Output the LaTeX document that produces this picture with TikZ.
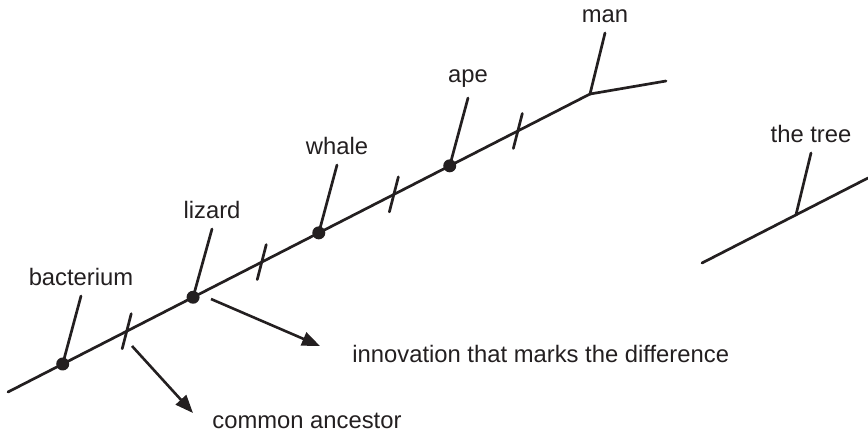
\documentclass[tikz,border=0pt]{standalone}
\usepackage{fontspec}
\setmainfont{Liberation Sans}
\usetikzlibrary{arrows.meta, calc}
\definecolor{inkdark}{HTML}{231F20}

\begin{document}
\begin{tikzpicture}[x=0.5pt, y=-0.5pt, color=inkdark,
  stem/.style={line width=1.35pt, line cap=round},
  lbl/.style={inner sep=5pt, anchor=south, font=\fontsize{11.9}{14}\selectfont},
  txt/.style={inner sep=0pt, anchor=base west, font=\fontsize{11.9}{14}\selectfont},
  dot/.style={circle, fill, inner sep=0pt, minimum size=6.5pt},
  arr/.style={-{Triangle[length=9pt, width=7pt]}, line width=1.3pt}
]
  \useasboundingbox (0,0) rectangle (868,435);

  % main line
  \coordinate (root) at (8,392);
  \coordinate (fork) at (590,94);
  \coordinate (mantop) at (605,33);
  \coordinate (side) at (666,81);
  \draw[stem] (root) -- (fork) -- (mantop);
  \draw[stem] (fork) -- (side);
  \node[lbl] (manlbl) at (mantop) {man};

  % species along the line
  \node[dot] (bact) at ($(root)!0.094!(fork)$) {};
  \node[dot] (liz) at ($(root)!0.318!(fork)$) {};
  \node[dot] (whale) at ($(root)!0.534!(fork)$) {};
  \node[dot] (ape) at ($(root)!0.759!(fork)$) {};

  \node[lbl] (bactlbl) at (81,296) {bacterium};
  \node[lbl] (lizlbl) at (212,229) {lizard};
  \node[lbl] (whalelbl) at (337,165) {whale};
  \node[lbl] (apelbl) at (468,98) {ape};

  \draw[stem] (bact.center) -- (bactlbl.south);
  \draw[stem] (liz.center) -- (lizlbl.south);
  \draw[stem] (whale.center) -- (whalelbl.south);
  \draw[stem] (ape.center) -- (apelbl.south);

  % innovations
  \foreach \t/\n in {0.204/ta, 0.436/tb, 0.663/tc, 0.876/td} {
    \coordinate (\n) at ($(root)!\t!(fork)$);
    \draw[stem] ($(\n)+(4.5,-17.5)$) -- ($(\n)+(-4.5,17.5)$);
  }

  \node[txt] (anclbl) at (212,428) {common ancestor};
  \node[txt] (innlbl) at (352,362) {innovation that marks the difference};
  \coordinate (ancfrom) at (132,346);
  \coordinate (ancto) at (193,413);
  \coordinate (innfrom) at (211,299);
  \coordinate (innto) at (320,346);
  \draw[arr] (ancfrom) -- (ancto);
  \draw[arr] (innfrom) -- (innto);

  % the tree
  \coordinate (treea) at (702,263);
  \coordinate (treeb) at (868,178);
  \node[lbl] (treelbl) at (811,153) {the tree};
  \draw[stem] (treea) -- (treeb);
  \draw[stem] ($(treea)!0.566!(treeb)$) -- (treelbl.south);
\end{tikzpicture}
\end{document}
